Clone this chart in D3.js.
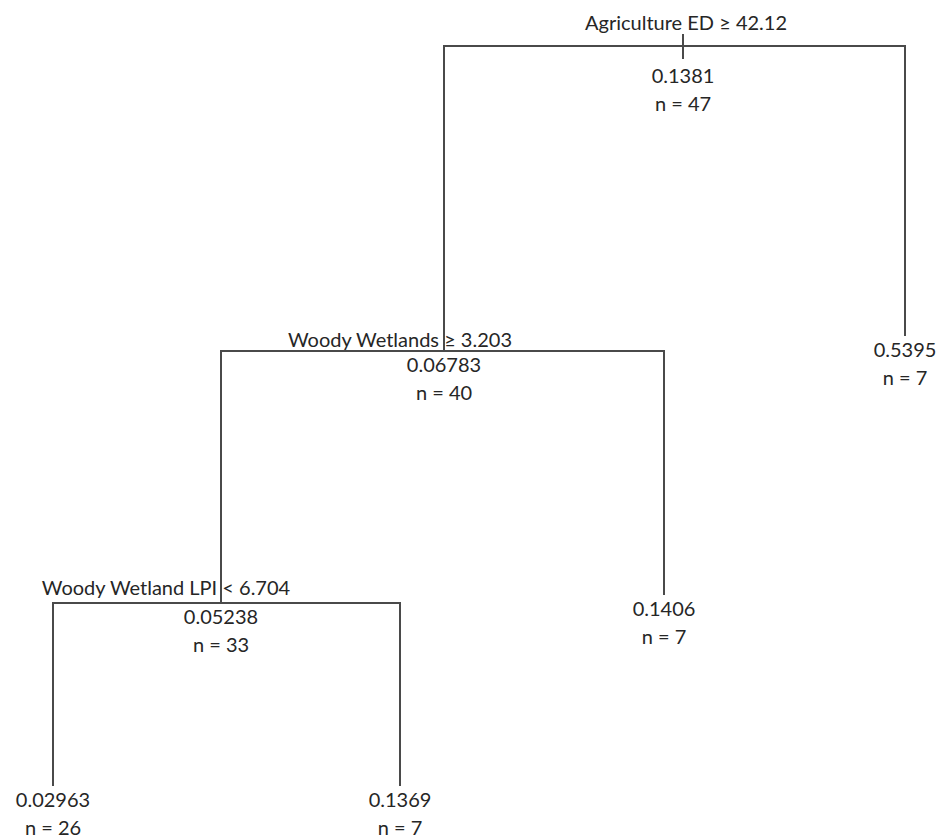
<!DOCTYPE html>
<html>
<head>
<meta charset="utf-8">
<script src="https://cdn.jsdelivr.net/npm/d3@7"></script>
<style>
  html, body { margin: 0; padding: 0; background: #fff; }
  svg { display: block; }
</style>
</head>
<body>
<svg id="chart" width="936" height="840"></svg>
<script>
// ---- data ----
const nodeIds     = ["root", "ww", "lpi", "leafA", "leafB", "leafC", "leafD"];
const parentIds   = ["",     "root", "ww", "lpi", "lpi", "ww", "root"];
const nodeValues  = [0.1381, 0.06783, 0.05238, 0.02963, 0.1369, 0.1406, 0.5395];
const nodeCounts  = [47, 40, 33, 26, 7, 7, 7];
const splitLabels = ["Agriculture ED ≥ 42.12", "Woody Wetlands ≥ 3.203", "Woody Wetland LPI < 6.704", "", "", "", ""];

// ---- layout (positions, separate from data) ----
const xScale = d3.scaleOrdinal().domain(nodeIds).range([683, 444, 221, 53, 400, 664, 905]);
const yScale = d3.scaleOrdinal().domain(nodeIds).range([46, 351, 603, 786, 786, 595, 336]);
const labelX = d3.scaleOrdinal().domain(nodeIds).range([686, 400, 166, 0, 0, 0, 0]);
const labelY = d3.scaleOrdinal().domain(nodeIds).range([30, 347, 595, 0, 0, 0, 0]);
const fmt = d3.format(".4r");

const table = nodeIds.map((id, i) => ({
  id, parent: parentIds[i] || null, value: nodeValues[i], n: nodeCounts[i], label: splitLabels[i]
}));
const root = d3.stratify().id(d => d.id).parentId(d => d.parent)(table);

const svg = d3.select("#chart");
const lineColor = "#4a4a4a";
const textColor = "#262626";
const font = "Lato, 'Open Sans', sans-serif";
const fs = 20;

// links: elbow from parent split line down to child
const g = svg.append("g");
root.links().forEach(l => {
  const px = xScale(l.source.id), py = yScale(l.source.id);
  const cx = xScale(l.target.id), cy = yScale(l.target.id);
  g.append("path")
    .attr("d", `M${px},${py}H${cx}V${cy}`)
    .attr("fill", "none")
    .attr("stroke", lineColor)
    .attr("stroke-width", 2);
});

// root tick
const tickLen = 13;
g.append("line")
  .attr("x1", xScale(root.id)).attr("x2", xScale(root.id))
  .attr("y1", yScale(root.id) - tickLen + 1).attr("y2", yScale(root.id) + tickLen)
  .attr("stroke", lineColor).attr("stroke-width", 2);

// node texts
root.descendants().forEach(node => {
  const d = node.data;
  const x = xScale(d.id), y = yScale(d.id);
  const isRoot = node.depth === 0;
  const off = isRoot ? 37 : (node.children ? 21 : 21);
  if (node.children) {
    svg.append("text")
      .attr("x", labelX(d.id)).attr("y", labelY(d.id))
      .attr("text-anchor", "middle")
      .attr("font-family", font).attr("font-size", fs)
      .attr("fill", textColor)
      .text(d.label);
  }
  svg.append("text")
    .attr("x", x).attr("y", y + off)
    .attr("text-anchor", "middle")
    .attr("font-family", font).attr("font-size", fs)
    .attr("fill", textColor)
    .text(fmt(d.value));
  svg.append("text")
    .attr("x", x).attr("y", y + off + 28)
    .attr("text-anchor", "middle")
    .attr("font-family", font).attr("font-size", fs)
    .attr("fill", textColor)
    .text("n = " + d.n);
});
</script>
</body>
</html>
